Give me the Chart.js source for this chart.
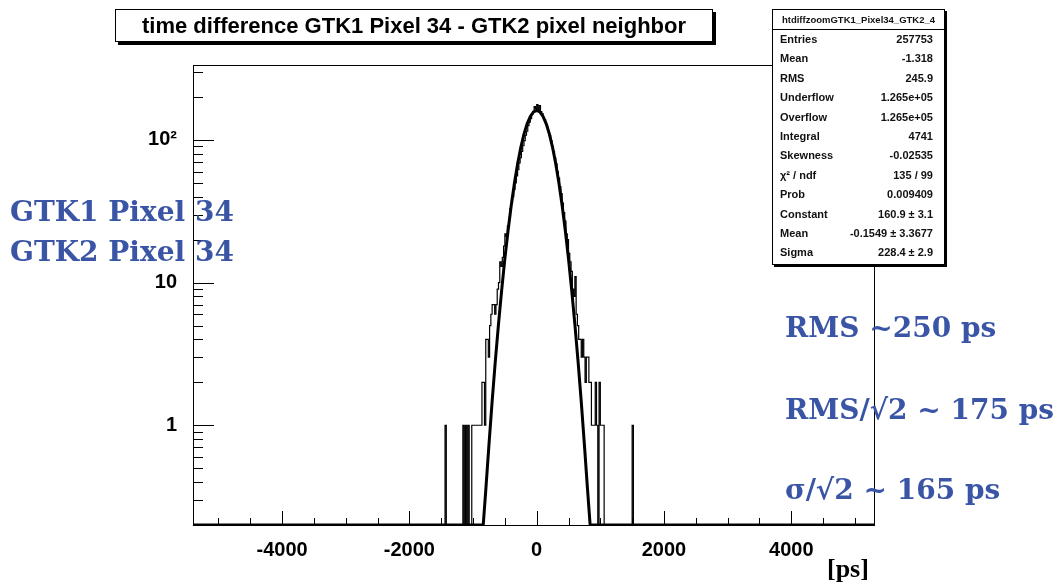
<!DOCTYPE html>
<html>
<head>
<meta charset="utf-8">
<title>time difference GTK1 Pixel 34 - GTK2 pixel neighbor</title>
<script src="https://cdn.jsdelivr.net/npm/chart.js@4.4.1/dist/chart.umd.min.js"></script>
<style>
  html, body { margin: 0; padding: 0; background: #fff; }
  #wrap { position: relative; width: 1060px; height: 586px; overflow: hidden; }
  #plot { position: absolute; left: 0; top: 0; }
  .title-box {
    position: absolute; left: 115px; top: 9px; width: 596px; height: 31px;
    border: 1px solid #000; box-shadow: 3px 3px 0 #000; background: #fff;
    font: bold 22px "Liberation Sans", Arial, sans-serif; text-align: center; line-height: 31px;
  }
  .stats {
    position: absolute; left: 772px; top: 9px; width: 171px; height: 254px;
    border: 1px solid #000; box-shadow: 2px 2px 0 #000; background: #fff;
    font-family: "Liberation Sans", Arial, sans-serif; color: #111;
  }
  .stats .head {
    height: 19px; border-bottom: 1px solid #000; font-size: 9.5px; font-weight: bold;
    text-align: center; line-height: 19px;
  }
  .stats .row {
    display: flex; justify-content: space-between; height: 19.4px; line-height: 19.4px;
    padding: 0 11px 0 7px; font-size: 11px; font-weight: bold;
  }
  .note { position: absolute; font: bold 28px "DejaVu Serif", serif; color: #3b55a6; white-space: nowrap; line-height: 1; }
  .unit { position: absolute; left: 827px; top: 556px; font: bold 26px "Liberation Serif", serif; line-height: 1; }
</style>
</head>
<body>
<div id="wrap">
  <canvas id="plot" width="1060" height="586"></canvas>

  <div class="title-box">time difference GTK1 Pixel 34 - GTK2 pixel neighbor</div>

  <div class="stats">
    <div class="head">htdiffzoomGTK1_Pixel34_GTK2_4</div>
    <div class="row"><span>Entries</span><span>257753</span></div>
    <div class="row"><span>Mean</span><span>-1.318</span></div>
    <div class="row"><span>RMS</span><span>245.9</span></div>
    <div class="row"><span>Underflow</span><span>1.265e+05</span></div>
    <div class="row"><span>Overflow</span><span>1.265e+05</span></div>
    <div class="row"><span>Integral</span><span>4741</span></div>
    <div class="row"><span>Skewness</span><span>-0.02535</span></div>
    <div class="row"><span>χ² / ndf</span><span>135 / 99</span></div>
    <div class="row"><span>Prob</span><span>0.009409</span></div>
    <div class="row"><span>Constant</span><span>160.9 ± 3.1</span></div>
    <div class="row"><span>Mean</span><span>-0.1549 ± 3.3677</span></div>
    <div class="row"><span>Sigma</span><span>228.4 ± 2.9</span></div>
  </div>

  <div class="note" style="left:10px; top:198px;">GTK1 Pixel 34</div>
  <div class="note" style="left:10px; top:238px;">GTK2 Pixel 34</div>
  <div class="note" style="left:785px; top:314px;">RMS ~250 ps</div>
  <div class="note" style="left:785px; top:396px;">RMS/√2 ~ 175 ps</div>
  <div class="note" style="left:785px; top:476px;">σ/√2 ~ 165 ps</div>
  <div class="unit">[ps]</div>
</div>

<script>
// histogram: 20 ps bins, first bin starts at -1460 ps
const histStart = -1460;
const histBin = 20;
const histCounts = [
  0, 1, 0, 0, 0, 0, 0, 0, 0, 0,            // -1460
  0, 0, 0, 0, 0, 1, 0, 1, 0, 1,            // -1260
  0, 0, 1, 1, 1, 1, 1, 1, 1, 1,            // -1060
  2, 2, 1, 4, 4, 3, 5, 6, 7, 7,            // -860
  6, 7, 9, 10, 14, 13, 15, 18, 22, 21,     // -660
  25, 28, 33, 36, 40, 45, 50, 56, 62, 69,  // -460
  75, 83, 91, 99, 108, 115, 126, 133, 141, 151, // -260
  158, 171, 165, 177, 162, 174, 158, 153, 144, 139, // -60
  128, 123, 114, 107, 99, 90, 83, 75, 68, 60, // 140
  54, 47, 42, 36, 31, 27, 22, 20, 16, 14,  // 340
  12, 9, 8, 11, 6, 5, 4, 4, 3, 4,          // 540
  3, 2, 3, 3, 2, 2, 1, 1, 1, 2,            // 740
  1, 0, 2, 1, 1, 1, 0, 0, 0, 0,            // 940
  0, 0, 0, 0, 0, 0, 0, 0, 0, 0,            // 1140
  0, 0, 0, 0, 0, 0, 0, 0, 1, 0             // 1340
];

// gaussian fit curve (clipped at the frame bottom)
const fitX = [-5400, -840, -800, -750, -700, -650, -600, -550, -500, -450, -400, -350, -300, -250, -200, -150, -100, -50,
  0, 50, 100, 150, 200, 250, 300, 350, 400, 450, 500, 550, 600, 650, 700, 750, 800, 840, 5300];
const fitY = [0.2, 0.2, 0.35, 0.73, 1.47, 2.81, 5.11, 8.86, 14.7, 23.1, 34.7, 49.7, 67.9, 88.4, 109.7, 129.7, 146.2, 157.1,
  160.9, 157.1, 146.2, 129.7, 109.7, 88.4, 67.9, 49.7, 34.7, 23.1, 14.7, 8.86, 5.11, 2.81, 1.47, 0.73, 0.35, 0.2, 0.2];

const xRange = [-5400, 5300];
const yRange = [0.2, 335];
const xLabelTicks = [-4000, -2000, 0, 2000, 4000];
const yLabelTicks = [1, 10, 100];
const yLabelText = ['1', '10', '10²'];

// empty bins go below the frame so only the vertical edges show
const histPoints = histCounts.map((c, i) => ({ x: histStart + i * histBin, y: c > 0 ? c : 0.05 }));
histPoints.push({ x: histStart + histCounts.length * histBin, y: 0.05 });
const fitPoints = fitX.map((x, i) => ({ x: x, y: fitY[i] }));

// ROOT style: ticks inside the frame, frame box
const rootAxes = {
  id: 'rootAxes',
  afterDatasetsDraw(chart) {
    const { ctx, chartArea: a, scales: { x, y } } = chart;
    ctx.save();
    ctx.strokeStyle = '#000';
    ctx.lineWidth = 1;
    ctx.beginPath();
    for (let v = -5000; v <= 5000; v += 500) {
      const px = Math.round(x.getPixelForValue(v)) + 0.5;
      const len = v % 2000 === 0 ? 14 : 7;
      ctx.moveTo(px, a.bottom);
      ctx.lineTo(px, a.bottom - len);
    }
    for (let e = -1; e <= 2; e++) {
      for (let m = 1; m <= 9; m++) {
        const v = m * Math.pow(10, e);
        if (v < y.min || v > y.max) continue;
        const py = Math.round(y.getPixelForValue(v)) + 0.5;
        ctx.moveTo(a.left, py);
        ctx.lineTo(a.left + (m === 1 ? 21 : 10), py);
      }
    }
    ctx.stroke();
    ctx.strokeRect(Math.round(a.left) + 0.5, Math.round(a.top) + 0.5,
      Math.round(a.right - a.left), Math.round(a.bottom - a.top));
    ctx.restore();
  }
};

const tickFont = { family: '"Liberation Sans", Arial, sans-serif', size: 20, weight: 'bold' };

new Chart(document.getElementById('plot'), {
  type: 'line',
  data: {
    datasets: [
      {
        label: 'gaus fit',
        data: fitPoints,
        borderColor: '#000',
        borderWidth: 3,
        pointRadius: 0,
        order: 0
      },
      {
        label: 'htdiffzoomGTK1_Pixel34_GTK2_4',
        data: histPoints,
        borderColor: '#000',
        borderWidth: 1.2,
        pointRadius: 0,
        stepped: 'before',
        order: 1
      }
    ]
  },
  options: {
    responsive: false,
    animation: false,
    layout: { padding: { left: 0, top: 65, right: 186, bottom: 0 } },
    plugins: {
      legend: { display: false },
      tooltip: { enabled: false }
    },
    scales: {
      x: {
        type: 'linear',
        min: xRange[0],
        max: xRange[1],
        grid: { display: false },
        border: { display: false },
        afterBuildTicks: s => { s.ticks = xLabelTicks.map(v => ({ value: v })); },
        afterFit: s => { s.height = 61; },
        ticks: {
          autoSkip: false,
          maxRotation: 0,
          padding: 5,
          color: '#000',
          font: tickFont,
          callback: v => String(v)
        }
      },
      y: {
        type: 'logarithmic',
        min: yRange[0],
        max: yRange[1],
        grid: { display: false },
        border: { display: false },
        afterBuildTicks: s => { s.ticks = yLabelTicks.map(v => ({ value: v })); },
        afterFit: s => { s.width = 193; },
        ticks: {
          autoSkip: false,
          padding: 8,
          color: '#000',
          font: tickFont,
          callback: (v, i) => yLabelText[i]
        }
      }
    }
  },
  plugins: [rootAxes]
});
</script>
</body>
</html>
